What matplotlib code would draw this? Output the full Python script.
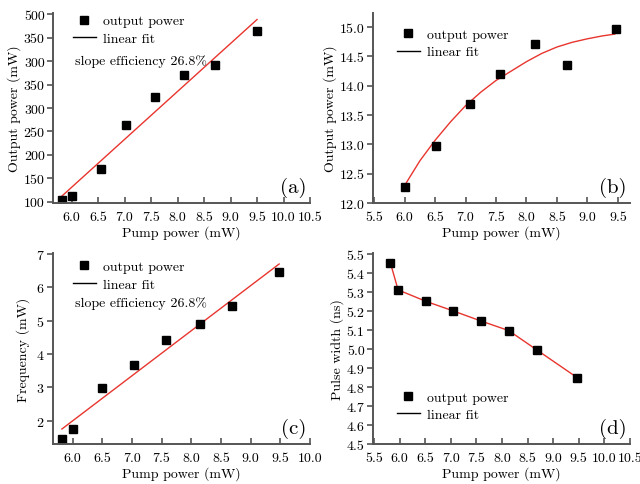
import matplotlib
matplotlib.use("Agg")
import matplotlib.pyplot as plt
from matplotlib.lines import Line2D

plt.rcParams["font.family"] = ["cmr10", "DejaVu Serif"]
plt.rcParams["axes.formatter.use_mathtext"] = True
plt.rcParams["font.size"] = 10

# (a) output power vs pump power
a_x = [5.82, 6.0, 6.55, 7.03, 7.58, 8.12, 8.7, 9.5]
a_y = [103.6, 112.8, 169.8, 263.7, 324.2, 370.5, 391.8, 465.1]
a_fit_x = [5.82, 9.5]
a_fit_y = [112, 489]
a_yticks = [100, 150, 200, 250, 300, 350, 400, 450, 500]
a_yticklabels = ["100", "150", "200", "250", "300", "350", "300", "350", "500"]
a_xticks = [6.0, 6.5, 7.0, 7.5, 8.0, 8.5, 9.0, 9.5, 10.0, 10.5]

# (b) output power, saturating curve
b_x = [6.0, 6.52, 7.07, 7.57, 8.14, 8.67, 9.47]
b_y = [12.28, 12.98, 13.69, 14.20, 14.71, 14.36, 14.97]
b_fit_x = [6.0, 6.25, 6.5, 6.75, 7.0, 7.25, 7.5, 7.75, 8.0, 8.25, 8.5, 8.75, 9.0, 9.25, 9.45]
b_fit_y = [12.30, 12.72, 13.07, 13.38, 13.66, 13.89, 14.09, 14.25, 14.41, 14.55, 14.66, 14.74, 14.80, 14.85, 14.88]
b_xticks = [5.5, 6.0, 6.5, 7.0, 7.5, 8.0, 8.5, 9.0, 9.5]
b_yticks = [12.0, 12.5, 13.0, 13.5, 14.0, 14.5, 15.0]

# (c) frequency
c_x = [5.82, 6.0, 6.5, 7.03, 7.58, 8.14, 8.68, 9.48]
c_y = [1.45, 1.75, 2.98, 3.67, 4.43, 4.90, 5.45, 6.47]
c_fit_x = [5.82, 9.48]
c_fit_y = [1.75, 6.70]
c_xticks = [6.0, 6.5, 7.0, 7.5, 8.0, 8.5, 9.0, 9.5, 10.0]
c_yticks = [2, 3, 4, 5, 6, 7]

# (d) pulse width
d_x = [5.82, 5.97, 6.52, 7.05, 7.58, 8.13, 8.68, 9.47]
d_y = [5.453, 5.311, 5.25, 5.20, 5.148, 5.097, 4.995, 4.849]
d_xticks = [5.5, 6.0, 6.5, 7.0, 7.5, 8.0, 8.5, 9.0, 9.5, 10.0, 10.5]
d_yticks = [4.5, 4.6, 4.7, 4.8, 4.9, 5.0, 5.1, 5.2, 5.3, 5.4, 5.5]

RED = "#e8352e"
AXC = "#555555"
W, H = 640, 485


def px_axes(fig, left, top, right, bottom):
    return fig.add_axes([left / W, (H - bottom) / H, (right - left) / W, (bottom - top) / H])


def style(ax):
    for s in ["top", "right"]:
        ax.spines[s].set_visible(False)
    for s in ["left", "bottom"]:
        ax.spines[s].set_color(AXC)
        ax.spines[s].set_linewidth(1.4)
    ax.tick_params(axis="x", direction="in", length=4, width=1.2, color=AXC, pad=6)
    ax.tick_params(axis="y", direction="out", length=4, width=1.2, color=AXC, pad=2)


def legend(ax, loc, anchor):
    handles = [
        Line2D([], [], marker="s", color="black", linestyle="none", markersize=6),
        Line2D([], [], color="black", linewidth=1),
    ]
    ax.legend(handles, ["output power", "linear fit"], loc=loc, bbox_to_anchor=anchor,
              frameon=False, fontsize=10, handlelength=1.7, handletextpad=0.5,
              labelspacing=0.35, borderaxespad=0)


fig = plt.figure(figsize=(6.4, 4.85), dpi=100)

ax = px_axes(fig, 53, 14, 310, 204)
ax.plot(a_fit_x, a_fit_y, color=RED, linewidth=1)
ax.plot(a_x, a_y, "s", color="black", markersize=6)
ax.set_xlim(5.65, 10.5)
ax.set_ylim(97, 503)
ax.set_xticks(a_xticks)
ax.set_xticklabels([f"{v:.1f}" for v in a_xticks])
ax.set_yticks(a_yticks)
ax.set_yticklabels(a_yticklabels)
ax.set_xlabel("Pump power (mW)", labelpad=1)
ax.set_ylabel("Output power (mW)", labelpad=2)
style(ax)
legend(ax, "upper left", (0.055, 1.02))
ax.text(0.085, 0.73, "slope efficiency 26.8%", transform=ax.transAxes, fontsize=10)
ax.text(0.985, 0.06, "(a)", transform=ax.transAxes, fontsize=15, ha="right")

ax = px_axes(fig, 373, 14, 630, 204)
ax.plot(b_fit_x, b_fit_y, color=RED, linewidth=1)
ax.plot(b_x, b_y, "s", color="black", markersize=6)
ax.set_xlim(5.48, 9.7)
ax.set_ylim(12.0, 15.24)
ax.set_xticks(b_xticks)
ax.set_xticklabels([f"{v:.1f}" for v in b_xticks])
ax.set_yticks(b_yticks)
ax.set_yticklabels([f"{v:.1f}" for v in b_yticks])
ax.set_xlabel("Pump power (mW)", labelpad=1)
ax.set_ylabel("Output power (mW)", labelpad=2)
style(ax)
legend(ax, "upper left", (0.07, 0.95))
ax.text(0.985, 0.06, "(b)", transform=ax.transAxes, fontsize=15, ha="right")

ax = px_axes(fig, 53, 254, 310, 445)
ax.plot(c_fit_x, c_fit_y, color=RED, linewidth=1)
ax.plot(c_x, c_y, "s", color="black", markersize=6)
ax.set_xlim(5.67, 10.0)
ax.set_ylim(1.3, 7.03)
ax.set_xticks(c_xticks)
ax.set_xticklabels([f"{v:.1f}" for v in c_xticks])
ax.set_yticks(c_yticks)
ax.set_xlabel("Pump power (mW)", labelpad=1)
ax.set_ylabel("Frequency (mW)", labelpad=4)
style(ax)
legend(ax, "upper left", (0.055, 0.99))
ax.text(0.085, 0.725, "slope efficiency 26.8%", transform=ax.transAxes, fontsize=10)
ax.text(0.985, 0.06, "(c)", transform=ax.transAxes, fontsize=15, ha="right")

ax = px_axes(fig, 373, 254, 630, 445)
ax.plot(d_x, d_y, color=RED, linewidth=1)
ax.plot(d_x, d_y, "s", color="black", markersize=6)
ax.set_xlim(5.48, 10.5)
ax.set_ylim(4.5, 5.505)
ax.set_xticks(d_xticks)
ax.set_xticklabels([f"{v:.1f}" for v in d_xticks])
ax.set_yticks(d_yticks)
ax.set_yticklabels([f"{v:.1f}" for v in d_yticks])
ax.set_xlabel("Pump power (mW)", labelpad=1)
ax.set_ylabel("Pulse width (ns)", labelpad=2)
style(ax)
legend(ax, "lower left", (0.07, 0.09))
ax.text(0.985, 0.06, "(d)", transform=ax.transAxes, fontsize=15, ha="right")

fig.savefig("out.png", dpi=100)
